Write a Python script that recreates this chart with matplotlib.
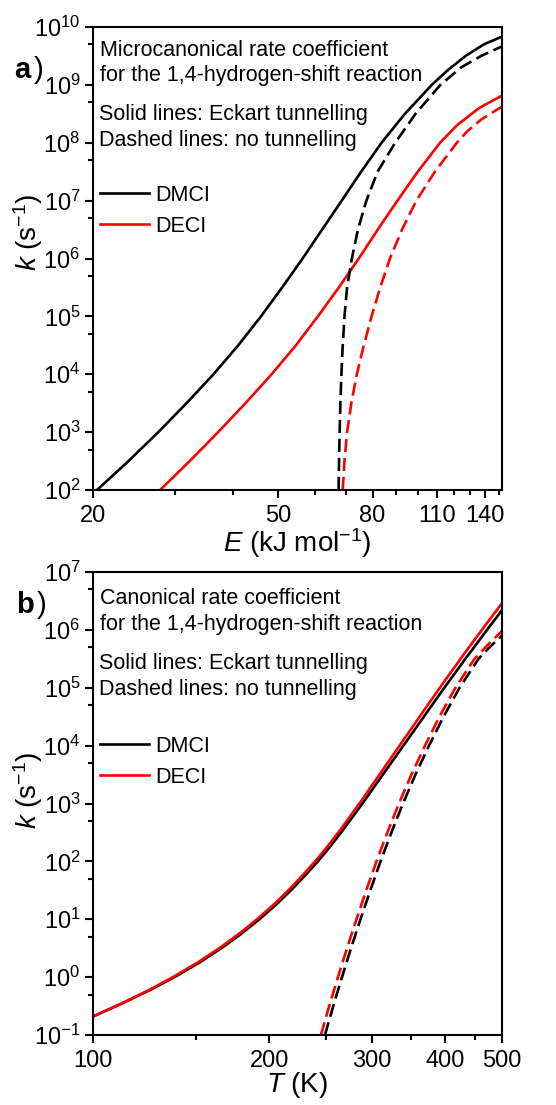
import matplotlib
matplotlib.use('Agg')
import matplotlib.pyplot as plt
from matplotlib.ticker import FixedLocator, NullFormatter, LogLocator, FixedFormatter

# ---- panel a: microcanonical k(E), values as log10(k) ----
E_dmci_tun = [20.4, 23.85, 27.65, 31.8, 36.35, 41.1, 46.0, 51.1, 56.55, 62.3, 68.65,
              75.6, 83.65, 93.9, 100.4, 107.3, 116.0, 126.9, 138.9, 151.6]
lk_dmci_tun = [2.0, 2.5, 3.0, 3.5, 4.0, 4.5, 5.0, 5.5, 6.0, 6.5, 7.0,
               7.5, 8.0, 8.5, 8.75, 9.0, 9.25, 9.5, 9.7, 9.83]

E_dmci_no = [67.6, 67.75, 67.95, 68.2, 68.55, 69.0, 69.6, 70.5, 72.2, 74.4, 77.6,
             82.0, 89.5, 99.0, 112.0, 124.0, 137.0, 151.6]
lk_dmci_no = [2.0, 2.5, 3.0, 3.5, 4.0, 4.5, 5.0, 5.5, 6.0, 6.5, 7.0,
              7.5, 8.0, 8.5, 9.0, 9.3, 9.5, 9.66]

E_deci_tun = [27.9, 32.3, 37.2, 42.6, 48.5, 54.7, 61.0, 67.7, 74.7, 82.1, 90.5,
              100.1, 111.8, 121.5, 135.7, 151.6]
lk_deci_tun = [2.0, 2.5, 3.0, 3.5, 4.0, 4.5, 5.0, 5.5, 6.0, 6.5, 7.0,
               7.5, 8.0, 8.3, 8.6, 8.81]

E_deci_no = [69.0, 69.6, 70.5, 72.0, 74.0, 76.6, 79.6, 83.1, 87.2, 92.6, 99.4,
             109.0, 121.5, 128.0, 137.0, 151.6]
lk_deci_no = [2.0, 2.5, 3.0, 3.5, 4.0, 4.5, 5.0, 5.5, 6.0, 6.5, 7.0,
              7.5, 8.0, 8.2, 8.4, 8.62]

# ---- panel b: canonical k(T), values as log10(k) ----
T_tun = [100, 112.2, 124.9, 137.8, 151.9, 165.7, 179.3, 192.5, 205.4, 217.9, 230.1,
         242.3, 254.0, 265.5, 276.9, 288.7, 312.9, 339.2, 367.6, 398.5, 432.9, 471.4, 500]
lk_dmci_T = [-0.68, -0.453, -0.227, 0.0, 0.25, 0.5, 0.75, 1.0, 1.25, 1.5, 1.75,
             2.0, 2.25, 2.5, 2.75, 3.0, 3.5, 4.0, 4.5, 5.0, 5.5, 6.0, 6.34]
lk_deci_T = [-0.68, -0.45, -0.218, 0.015, 0.27, 0.525, 0.78, 1.035, 1.29, 1.545, 1.8,
             2.055, 2.31, 2.565, 2.82, 3.075, 3.585, 4.095, 4.605, 5.11, 5.615, 6.12, 6.46]

T_dmci_no = [249.1, 257.4, 266.4, 276.0, 286.5, 297.8, 310.0, 323.6, 338.6, 355.7, 375.2,
             397.2, 423.0, 455.9, 476.0, 500]
lk_dmci_no_T = [-1.0, -0.5, 0.0, 0.5, 1.0, 1.5, 2.0, 2.5, 3.0, 3.5, 4.0,
                4.5, 5.0, 5.5, 5.7, 5.9]
T_deci_no = [245.2, 253.3, 262.2, 271.7, 282.0, 293.1, 305.1, 318.5, 333.3, 350.1, 369.3,
             390.9, 416.3, 448.7, 473.7, 500]
lk_deci_no_T = [-1.0, -0.5, 0.0, 0.5, 1.0, 1.5, 2.0, 2.5, 3.0, 3.5, 4.0,
                4.5, 5.0, 5.5, 5.75, 5.98]

E_major = [20, 50, 80, 110, 140]
E_minor = [30, 40, 60, 70, 90, 100, 120, 130, 150]
T_major = [100, 200, 300, 400, 500]
T_minor = [150, 250, 350, 450]

params = {
    'font.family': ['Liberation Sans', 'DejaVu Sans'],
    'mathtext.fontset': 'custom',
    'mathtext.rm': 'Liberation Sans',
    'mathtext.it': 'Liberation Sans:italic',
    'mathtext.bf': 'Liberation Sans:bold',
    'axes.linewidth': 1.5,
    'xtick.labelsize': 17,
    'ytick.labelsize': 17,
    'xtick.major.size': 5.5,
    'ytick.major.size': 5.5,
    'xtick.minor.size': 3.5,
    'ytick.minor.size': 3.5,
    'xtick.major.width': 1.5,
    'ytick.major.width': 1.5,
    'xtick.minor.width': 1.5,
    'ytick.minor.width': 1.5,
    'xtick.major.pad': 5,
    'xtick.direction': 'out',
    'ytick.direction': 'out',
}
plt.rcParams.update(params)

W, H = 556, 1105
fig = plt.figure(figsize=(W / 100, H / 100), dpi=100)
ax1 = fig.add_axes([93 / W, 1 - 490 / H, 409 / W, 463 / H])
ax2 = fig.add_axes([93 / W, 1 - 1035 / H, 409 / W, 463 / H])

lw = 1.9
dash = (5, 2.2)
red = '#ff0000'


def pw(vals):
    return [10 ** v for v in vals]


ax1.plot(E_dmci_tun, pw(lk_dmci_tun), 'k-', lw=lw, label='DMCI')
ax1.plot(E_deci_tun, pw(lk_deci_tun), '-', color=red, lw=lw, label='DECI')
ax1.plot(E_dmci_no, pw(lk_dmci_no), 'k--', lw=lw, dashes=dash)
ax1.plot(E_deci_no, pw(lk_deci_no), '--', color=red, lw=lw, dashes=dash)

ax2.plot(T_tun, pw(lk_dmci_T), 'k-', lw=lw, label='DMCI')
ax2.plot(T_tun, pw(lk_deci_T), '-', color=red, lw=lw, label='DECI')
ax2.plot(T_dmci_no, pw(lk_dmci_no_T), 'k--', lw=lw, dashes=dash)
ax2.plot(T_deci_no, pw(lk_deci_no_T), '--', color=red, lw=lw, dashes=dash)

for ax in (ax1, ax2):
    ax.set_xscale('log')
    ax.set_yscale('log')
    ax.yaxis.set_major_locator(LogLocator(base=10, numticks=20))
    ax.yaxis.set_minor_locator(LogLocator(base=10, subs=(5.0,), numticks=20))
    ax.yaxis.set_minor_formatter(NullFormatter())
    ax.tick_params(top=False, right=False, which='both')

ax1.set_xlim(20, 152)
ax1.set_ylim(1e2, 1e10)
ax1.xaxis.set_major_locator(FixedLocator(E_major))
ax1.xaxis.set_major_formatter(FixedFormatter([str(v) for v in E_major]))
ax1.xaxis.set_minor_locator(FixedLocator(E_minor))
ax1.xaxis.set_minor_formatter(NullFormatter())

ax2.set_xlim(100, 500)
ax2.set_ylim(1e-1, 1e7)
ax2.xaxis.set_major_locator(FixedLocator(T_major))
ax2.xaxis.set_major_formatter(FixedFormatter([str(v) for v in T_major]))
ax2.xaxis.set_minor_locator(FixedLocator(T_minor))
ax2.xaxis.set_minor_formatter(NullFormatter())

ax1.set_xlabel(r'$E$ (kJ mol$^{-1}$)', fontsize=20, labelpad=0)
ax2.set_xlabel(r'$T$ (K)', fontsize=20, labelpad=-1)
fig.text(28 / W, 1 - 232 / H, r'$k$ (s$^{-1}$)', rotation=90, fontsize=20, ha='center', va='center')
fig.text(28 / W, 1 - 790 / H, r'$k$ (s$^{-1}$)', rotation=90, fontsize=20, ha='center', va='center')

fs = 15.5
ax1.text(0.018, 0.973, 'Microcanonical rate coefficient\nfor the 1,4-hydrogen-shift reaction',
         transform=ax1.transAxes, fontsize=fs, va='top', ha='left', linespacing=1.3)
ax1.text(0.014, 0.834, 'Solid lines: Eckart tunnelling\nDashed lines: no tunnelling',
         transform=ax1.transAxes, fontsize=fs, va='top', ha='left', linespacing=1.3)
ax2.text(0.018, 0.965, 'Canonical rate coefficient\nfor the 1,4-hydrogen-shift reaction',
         transform=ax2.transAxes, fontsize=fs, va='top', ha='left', linespacing=1.3)
ax2.text(0.014, 0.825, 'Solid lines: Eckart tunnelling\nDashed lines: no tunnelling',
         transform=ax2.transAxes, fontsize=fs, va='top', ha='left', linespacing=1.3)

ax1.legend(loc='center left', bbox_to_anchor=(-0.01, 0.603), frameon=False, fontsize=fs,
           handlelength=2.3, handletextpad=0.3, labelspacing=0.45, borderpad=0)
ax2.legend(loc='center left', bbox_to_anchor=(-0.01, 0.59), frameon=False, fontsize=fs,
           handlelength=2.3, handletextpad=0.3, labelspacing=0.45, borderpad=0)

# panel letters
fig.text(14 / W, 1 - 70 / H, 'a', fontsize=21, fontweight='bold', va='center', ha='left')
fig.text(34 / W, 1 - 70 / H, ')', fontsize=21, va='center', ha='left')
fig.text(16 / W, 1 - 605 / H, 'b', fontsize=21, fontweight='bold', va='center', ha='left')
fig.text(37 / W, 1 - 605 / H, ')', fontsize=21, va='center', ha='left')

fig.savefig('out.png', dpi=100)
